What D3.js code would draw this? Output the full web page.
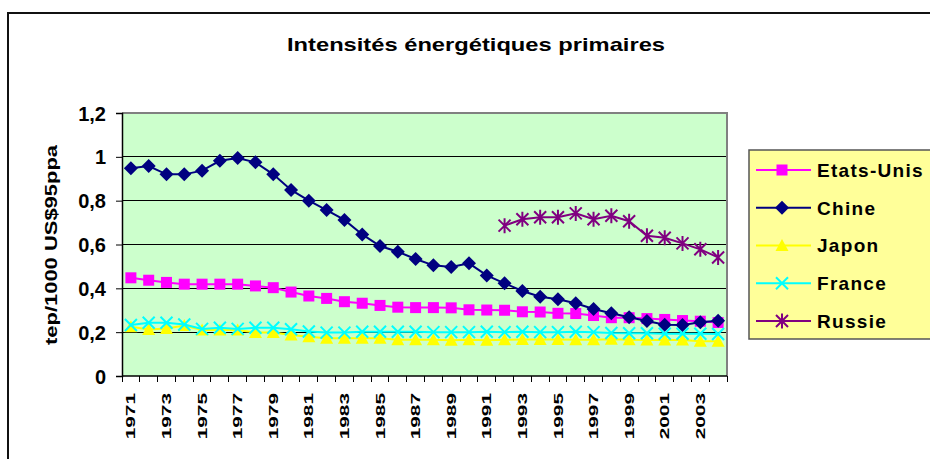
<!DOCTYPE html>
<html>
<head>
<meta charset="utf-8">
<script src="https://cdn.jsdelivr.net/npm/d3@7"></script>
<style>
  body { margin: 0; background: #fff; }
  svg text { font-family: "Liberation Sans", Arial, sans-serif; font-weight: 700; fill: #000; }
</style>
</head>
<body>
<svg width="930" height="459"></svg>
<script>
// categories
const years = [1971, 1972, 1973, 1974, 1975, 1976, 1977, 1978, 1979, 1980,
  1981, 1982, 1983, 1984, 1985, 1986, 1987, 1988, 1989, 1990,
  1991, 1992, 1993, 1994, 1995, 1996, 1997, 1998, 1999, 2000,
  2001, 2002, 2003, 2004]
// only every other year gets a label
const yearLabels = [1971, 1973, 1975, 1977, 1979, 1981, 1983, 1985, 1987, 1989,
  1991, 1993, 1995, 1997, 1999, 2001, 2003]
const yTicks = [0, 0.2, 0.4, 0.6, 0.8, 1, 1.2]

// series values (tep/1000 US$95ppa)
const etatsUnis = [0.448, 0.437, 0.427, 0.419, 0.419, 0.419, 0.419, 0.411, 0.403, 0.383,
  0.365, 0.354, 0.339, 0.332, 0.322, 0.314, 0.312, 0.312, 0.311, 0.302,
  0.301, 0.300, 0.293, 0.292, 0.286, 0.285, 0.276, 0.266, 0.266, 0.262,
  0.258, 0.253, 0.250, 0.244]
const chine = [0.948, 0.958, 0.920, 0.920, 0.937, 0.982, 0.995, 0.975, 0.920, 0.849,
  0.800, 0.757, 0.712, 0.646, 0.593, 0.567, 0.534, 0.505, 0.497, 0.514,
  0.459, 0.423, 0.388, 0.362, 0.350, 0.332, 0.306, 0.286, 0.268, 0.251,
  0.234, 0.233, 0.245, 0.252]
const japon = [0.225, 0.212, 0.217, 0.230, 0.210, 0.210, 0.210, 0.198, 0.198, 0.187,
  0.179, 0.172, 0.172, 0.172, 0.172, 0.165, 0.165, 0.165, 0.163, 0.165,
  0.163, 0.165, 0.167, 0.167, 0.167, 0.165, 0.165, 0.168, 0.165, 0.164,
  0.164, 0.164, 0.158, 0.158]
const france = [0.233, 0.243, 0.243, 0.235, 0.215, 0.220, 0.215, 0.220, 0.220, 0.213,
  0.203, 0.198, 0.198, 0.202, 0.202, 0.202, 0.202, 0.200, 0.200, 0.200,
  0.202, 0.200, 0.202, 0.200, 0.200, 0.202, 0.200, 0.196, 0.195, 0.195,
  0.193, 0.193, 0.193, 0.192]
// no data for Russia before 1992
const russie = [null, null, null, null, null, null, null, null, null, null,
  null, null, null, null, null, null, null, null, null, null,
  null, 0.686, 0.715, 0.724, 0.724, 0.742, 0.715, 0.731, 0.706, 0.640,
  0.631, 0.605, 0.578, 0.541]

const seriesNames = ['Etats-Unis', 'Chine', 'Japon', 'France', 'Russie']
const seriesValues = [etatsUnis, chine, japon, france, russie]
const seriesColors = ['#ff00ff', '#000080', '#ffff00', '#00ffff', '#800080']
const seriesMarkers = ['square', 'diamond', 'triangle', 'cross', 'star']

const svg = d3.select('svg')
const plot = {left: 122, right: 727, top: 113, bottom: 376}

const x = d3.scaleBand()
  .domain(years)
  .range([plot.left, plot.right])
  .padding(0)
const y = d3.scaleLinear()
  .domain([0, 1.2])
  .range([plot.bottom, plot.top])

const fmt = d => d3.format('.1f')(d).replace('.', ',').replace(/,0$/, '')

// outer frame of the chart (runs off the right and bottom edges)
svg.append('rect')
  .attr('x', 8).attr('y', 13)
  .attr('width', 940).attr('height', 470)
  .attr('fill', '#fff')
  .attr('stroke', '#111')
  .attr('stroke-width', 2)

svg.append('text')
  .attr('x', 476).attr('y', 51)
  .attr('text-anchor', 'middle')
  .style('font-size', '19px')
  .attr('textLength', 378)
  .attr('lengthAdjust', 'spacingAndGlyphs')
  .text('Intensités énergétiques primaires')

// plot background
svg.append('rect')
  .attr('x', plot.left).attr('y', plot.top)
  .attr('width', plot.right - plot.left).attr('height', plot.bottom - plot.top)
  .attr('fill', '#ccffcc')

// gridlines
svg.append('g')
  .selectAll('line')
  .data(yTicks.filter(d => d > 0 && d < 1.2))
  .enter()
  .append('line')
    .attr('x1', plot.left).attr('x2', plot.right)
    .attr('y1', d => y(d)).attr('y2', d => y(d))
    .attr('stroke', '#000')
    .attr('stroke-width', 1)
    .attr('shape-rendering', 'crispEdges')

// plot border on top and right
svg.append('path')
  .attr('d', `M${plot.left},${plot.top}H${plot.right}V${plot.bottom}`)
  .attr('fill', 'none')
  .attr('stroke', '#808080')
  .attr('stroke-width', 2)

// y axis
const yAxis = svg.append('g')
  .attr('transform', `translate(${plot.left},0)`)
  .call(d3.axisLeft(y).tickValues(yTicks).tickFormat(fmt).tickSize(6).tickPadding(10))
yAxis.select('.domain').attr('stroke', '#000').attr('stroke-width', 1.5)
yAxis.selectAll('.tick line').attr('stroke', '#000')
yAxis.selectAll('.tick text')
  .style('font-size', '20px')
  .attr('dy', '0.35em')

svg.append('text')
  .attr('transform', 'translate(57,245) rotate(-90)')
  .attr('text-anchor', 'middle')
  .style('font-size', '16px')
  .attr('textLength', 200)
  .attr('lengthAdjust', 'spacingAndGlyphs')
  .text('tep/1000 US$95ppa')

// x axis: ticks sit between the categories
svg.append('line')
  .attr('x1', plot.left).attr('x2', plot.right)
  .attr('y1', plot.bottom).attr('y2', plot.bottom)
  .attr('stroke', '#000').attr('stroke-width', 1.5)
svg.append('g')
  .selectAll('line')
  .data(years.concat(['end']))
  .enter()
  .append('line')
    .attr('x1', d => d === 'end' ? plot.right : x(d))
    .attr('x2', d => d === 'end' ? plot.right : x(d))
    .attr('y1', plot.bottom).attr('y2', plot.bottom + 6)
    .attr('stroke', '#000')
    .attr('shape-rendering', 'crispEdges')
svg.append('g')
  .selectAll('text')
  .data(yearLabels)
  .enter()
  .append('text')
    .attr('transform', d => `translate(${x(d) + x.bandwidth() / 2},393) rotate(-90) scale(1.6,1)`)
    .attr('text-anchor', 'end')
    .attr('dy', '0.35em')
    .style('font-size', '13px')
    .text(d => d)

// markers
function drawMarker(g, type, color) {
  if (type === 'square') {
    g.append('rect').attr('x', -5.5).attr('y', -5.5).attr('width', 11).attr('height', 11).attr('fill', color)
  } else if (type === 'diamond') {
    g.append('path').attr('d', 'M0,-7L7,0L0,7L-7,0Z').attr('fill', color)
  } else if (type === 'triangle') {
    g.append('path').attr('d', 'M0,-6.5L6.5,5.5L-6.5,5.5Z').attr('fill', color)
  } else if (type === 'cross') {
    g.append('path').attr('d', 'M-6,-6L6,6M-6,6L6,-6')
      .attr('stroke', color).attr('stroke-width', 2).attr('fill', 'none')
  } else if (type === 'star') {
    g.append('path').attr('d', 'M-6,-6L6,6M-6,6L6,-6M0,-7.5V7.5')
      .attr('stroke', color).attr('stroke-width', 2).attr('fill', 'none')
  }
}

const line = d3.line()
  .defined(d => d.value !== null)
  .x(d => x(d.year) + x.bandwidth() / 2)
  .y(d => y(d.value))

seriesNames.forEach((name, i) => {
  const points = years.map((year, j) => ({year: year, value: seriesValues[i][j]}))
  const g = svg.append('g').attr('class', 'series')
  g.append('path')
    .datum(points)
    .attr('d', line)
    .attr('fill', 'none')
    .attr('stroke', seriesColors[i])
    .attr('stroke-width', 2)
  g.selectAll('.marker')
    .data(points.filter(d => d.value !== null))
    .enter()
    .append('g')
      .attr('class', 'marker')
      .attr('transform', d => `translate(${x(d.year) + x.bandwidth() / 2},${y(d.value)})`)
      .each(function() { drawMarker(d3.select(this), seriesMarkers[i], seriesColors[i]) })
})

// legend
const legend = svg.append('g')
legend.append('rect')
  .attr('x', 749).attr('y', 150)
  .attr('width', 200).attr('height', 189)
  .attr('fill', '#ffff99')
  .attr('stroke', '#555')
  .attr('stroke-width', 1.5)
const legendRow = d3.scalePoint().domain(seriesNames).range([170, 321])
seriesNames.forEach((name, i) => {
  const ly = legendRow(name)
  legend.append('line')
    .attr('x1', 756).attr('x2', 811)
    .attr('y1', ly).attr('y2', ly)
    .attr('stroke', seriesColors[i]).attr('stroke-width', 2)
  const m = legend.append('g').attr('transform', `translate(782,${ly})`)
  drawMarker(m, seriesMarkers[i], seriesColors[i])
  legend.append('text')
    .attr('x', 817).attr('y', ly)
    .attr('dy', '0.36em')
    .style('font-size', '19px')
    .style('letter-spacing', '1.3px')
    .text(name)
})
</script>
</body>
</html>
